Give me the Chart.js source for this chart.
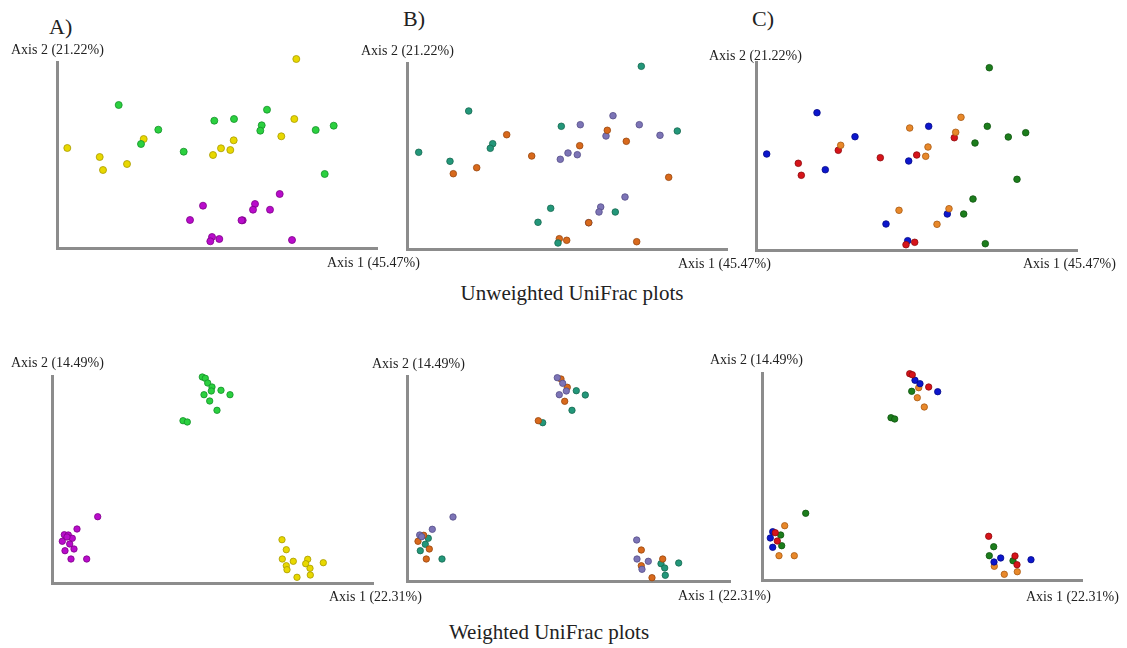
<!DOCTYPE html>
<html>
<head>
<meta charset="utf-8">
<style>
  body { margin: 0; background: #fff; width: 1127px; height: 648px; position: relative; overflow: hidden; }
  .lbl { position: absolute; font-family: "Liberation Serif", "Times New Roman", serif; color: #222; white-space: nowrap; }
  .ax { font-size: 14px; line-height: 14px; }
  .ttl { font-size: 21px; line-height: 21px; }
  .pl { font-size: 22px; line-height: 22px; }
  .box { position: absolute; }
</style>
</head>
<body>
<div id="page"></div>

<script src="https://cdn.jsdelivr.net/npm/chart.js"></script>
<script type="text/javascript">
    // values = offsets: x along Axis 1, y along Axis 2 (origin at the axes corner)

    // Unweighted UniFrac, panel A
    const uwA_green = [[61.7,143],[101.3,118.3],[84,104],[126.7,96.3],[157.3,127.3],[177,129],[210,138.3],[204.7,122.7],[203.3,117.3],[258.7,118],[276.7,122.3],[267.7,74]];
    const uwA_yellow = [[239.3,189],[237.3,129],[224.3,111.7],[176.7,107.7],[164,99.7],[173.3,98],[156,93],[86.7,109],[42.7,91],[46,78],[70,84],[10.3,100]];
    const uwA_magenta = [[146,42.3],[133,28],[198,44],[196,38.3],[213,38.3],[222.7,54],[185.7,27.7],[155,11],[153.3,6.7],[162.3,9],[235,8],[184.5,27.7]];

    // Unweighted UniFrac, panel B
    const uwB_teal = [[234.3,182.7],[61.7,138],[11.7,96.7],[43,87.7],[85.7,105.3],[83.3,100.7],[154.3,122.7],[270.3,118],[143.7,40.7],[131,26.7],[208.3,37],[151,6]];
    const uwB_orange = [[99.7,114.3],[69.7,81.3],[46.3,75.3],[124.7,93],[172.7,103.3],[200.3,118.7],[219.3,107.7],[261.7,71.7],[181.7,26.3],[152.3,10.3],[159.7,8.7],[229.7,7.3]];
    const uwB_purple = [[173.3,124.3],[206,133.3],[232.3,124.3],[253,113.7],[199,113],[161,96],[170.3,94.3],[153.3,89.7],[218,52],[193.7,42],[192,37],[181.7,26.3]];

    // Unweighted UniFrac, panel C
    const uwC_green = [[233.3,182.3],[231.3,123.7],[252.3,113],[269.7,117.3],[219,107],[261,70.7],[217,51],[207.7,36],[229.3,6.3]];
    const uwC_orange = [[205,132.7],[153.7,122],[199.7,117.7],[172,103],[169.7,93.7],[84.7,104.7],[143,39.7],[193,41.3],[181,25.7]];
    const uwC_red = [[198.3,112.3],[160.7,95],[124.3,92.3],[82.3,99.7],[42.3,86.7],[45.3,74.7],[150,5.3],[158.7,7.7]];
    const uwC_blue = [[61,137.3],[99,113.3],[172.7,123.7],[152.7,89],[69.3,80.3],[10.7,96],[130,26],[191.3,36],[151.7,9.3]];

    // Weighted UniFrac, panel A
    const wA_green = [[150.3,206],[153.3,204.7],[155.7,200],[160,196],[159.3,192],[152,188.3],[169,192.7],[178,188.3],[157.7,182],[165,172.7],[131,162.3],[135.3,161]];
    const wA_magenta = [[45.7,66.3],[25,54],[12.3,48.3],[16.3,48],[20.3,44.7],[10.3,41.7],[17.7,39],[13,32.3],[22,34],[19,24],[34.7,24],[15,46]];
    const wA_yellow = [[230,43.3],[234.3,33.3],[230.3,24],[241.3,21.7],[234.3,17.3],[235,13.3],[255.7,23.7],[253.7,19.3],[258,14.7],[258.3,8],[245,5.7],[271.3,20.3]];

    // Weighted UniFrac, panel B
    const wB_purple = [[150.3,203.3],[155.7,197.7],[159.3,190],[152.3,186.3],[25.3,51.7],[46,64],[12.7,46],[229.7,41],[230,22],[241.3,19.7],[235,11.7],[14.7,44.3]];
    const wB_orange = [[154,202],[160.3,193.7],[157.7,179.7],[131.3,160.3],[16.7,45.7],[11,39.7],[22.3,32],[19.3,22],[234.3,31],[255.7,22],[234.3,15.3],[245,3.3]];
    const wB_teal = [[169.3,190.3],[178.3,186],[165,170.7],[135.7,158.3],[21.3,42.7],[18.3,36.7],[13.3,30.3],[35,22],[254,17.3],[257.7,13],[271.7,18],[258.3,5.7]];

    // Weighted UniFrac, panel C
    const wC_red = [[147.7,206.3],[150.3,205.3],[166.7,193],[13.3,47.3],[15.3,39],[226.7,43.7],[253,24],[255,15.3]];
    const wC_blue = [[153,199.7],[158,196.3],[175.7,188.3],[10.7,48.3],[8.3,42],[10.7,32.7],[238.7,22],[232,18],[269,20.3]];
    const wC_green = [[149.7,188.7],[129,162.3],[132.7,161],[43.7,66.7],[18.7,45],[19.7,34.3],[231.7,33.3],[227.3,24.3],[251,19.3]];
    const wC_orange = [[156.7,192.3],[155.3,182.3],[162.3,173],[22.7,54.3],[17,24.3],[32.3,24.3],[232.3,13.7],[242.3,5.7],[255.3,8.3]];

    const axis1Labels = ['Axis 1 (45.47%)', 'Axis 1 (22.31%)'];
    const axis2Labels = ['Axis 2 (21.22%)', 'Axis 2 (14.49%)'];
    const panelLetters = ['A)', 'B)', 'C)'];
    const rowTitles = ['Unweighted UniFrac plots', 'Weighted UniFrac plots'];

    const col = {
        green: ['#2bd03f', '#14902a'],
        yellow: ['#e8d800', '#a89a00'],
        magenta: ['#b90ccb', '#7d0088'],
        teal: ['#23977a', '#16684f'],
        orange: ['#d8691c', '#98460e'],
        purple: ['#7c74b6', '#554e88'],
        dgreen: ['#1c7d1c', '#0f540f'],
        lorange: ['#e8882a', '#a85a14'],
        red: ['#d6141a', '#8e0a0e'],
        blue: ['#0c16cc', '#060b88']
    };

    const pad = 12;
    const page = document.getElementById('page');

    function addText(cls, text, left, top, center) {
        let d = document.createElement('div');
        d.className = 'lbl ' + cls;
        d.textContent = text;
        d.style.left = left + 'px';
        d.style.top = top + 'px';
        if (center) d.style.transform = 'translateX(-50%)';
        page.appendChild(d);
    }

    function buildPanel(box, groups, r) {
        let div = document.createElement('div');
        div.className = 'box';
        div.style.left = (box.x - pad) + 'px';
        div.style.top = (box.top - pad) + 'px';
        let canvas = document.createElement('canvas');
        canvas.width = box.w + 2 * pad;
        canvas.height = box.h + 2 * pad;
        div.appendChild(canvas);
        page.appendChild(div);

        new Chart(canvas, {
            type: 'scatter',
            data: {
                datasets: groups.map(g => ({
                    data: g[0].map(p => ({x: p[0], y: p[1]})),
                    backgroundColor: col[g[1]][0],
                    borderColor: col[g[1]][1],
                    borderWidth: 0.8,
                    pointRadius: r,
                    clip: false
                }))
            },
            options: {
                responsive: false,
                animation: false,
                layout: { padding: pad },
                scales: {
                    x: {
                        min: 0, max: box.w,
                        ticks: { display: false },
                        grid: { display: false, drawTicks: false },
                        border: { display: true, color: '#8c8c8c', width: 3 }
                    },
                    y: {
                        min: 0, max: box.h,
                        ticks: { display: false },
                        grid: { display: false, drawTicks: false },
                        border: { display: true, color: '#8c8c8c', width: 3 }
                    }
                },
                plugins: { legend: { display: false }, tooltip: { enabled: false } }
            }
        });
    }

    // top row: Unweighted
    buildPanel({x: 57, top: 62, w: 320, h: 186}, [[uwA_green, 'green'], [uwA_yellow, 'yellow'], [uwA_magenta, 'magenta']], 3.5);
    buildPanel({x: 407, top: 63, w: 320, h: 186}, [[uwB_teal, 'teal'], [uwB_orange, 'orange'], [uwB_purple, 'purple']], 3.3);
    buildPanel({x: 756, top: 62, w: 321, h: 188}, [[uwC_green, 'dgreen'], [uwC_orange, 'lorange'], [uwC_red, 'red'], [uwC_blue, 'blue']], 3.3);

    // bottom row: Weighted
    buildPanel({x: 52, top: 376, w: 321, h: 207}, [[wA_green, 'green'], [wA_magenta, 'magenta'], [wA_yellow, 'yellow']], 3.2);
    buildPanel({x: 407, top: 376, w: 323, h: 205}, [[wB_purple, 'purple'], [wB_orange, 'orange'], [wB_teal, 'teal']], 3.2);
    buildPanel({x: 762, top: 373, w: 320, h: 207}, [[wC_red, 'red'], [wC_blue, 'blue'], [wC_green, 'dgreen'], [wC_orange, 'lorange']], 3.2);

    // panel letters
    addText('pl', panelLetters[0], 49, 16);
    addText('pl', panelLetters[1], 403, 8);
    addText('pl', panelLetters[2], 752, 8);

    // axis labels
    addText('ax', axis2Labels[0], 11, 43);
    addText('ax', axis2Labels[0], 361, 44);
    addText('ax', axis2Labels[0], 709, 49);
    addText('ax', axis1Labels[0], 327, 256);
    addText('ax', axis1Labels[0], 678, 257);
    addText('ax', axis1Labels[0], 1023, 257);
    addText('ax', axis2Labels[1], 11, 356);
    addText('ax', axis2Labels[1], 372, 357);
    addText('ax', axis2Labels[1], 710, 353);
    addText('ax', axis1Labels[1], 329, 590);
    addText('ax', axis1Labels[1], 678, 589);
    addText('ax', axis1Labels[1], 1026, 590);

    // row titles
    addText('ttl', rowTitles[0], 572, 283, true);
    addText('ttl', rowTitles[1], 549, 622, true);
</script>
</body>
</html>
